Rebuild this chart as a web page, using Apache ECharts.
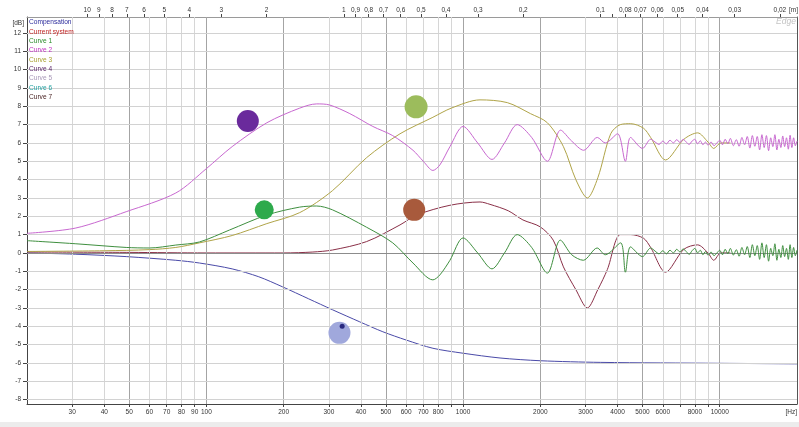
<!DOCTYPE html>
<html><head><meta charset="utf-8">
<script src="https://cdn.jsdelivr.net/npm/echarts@6/dist/echarts.min.js"></script>
<style>html,body{margin:0;padding:0;background:#fff}#c{width:799px;height:427px}</style>
</head><body><div id="c"></div>
<script>
// ---------- data ----------
const legendNames = ['Compensation','Current system','Curve 1','Curve 2','Curve 3','Curve 4','Curve 5','Curve 6','Curve 7'];

const compFreq = [20, 31, 48.7, 76, 94, 126, 160, 198, 250, 310, 396, 487, 600, 763, 1000, 1393, 2000, 3440, 10000, 20000];
const compDb   = [0.0, -0.07, -0.2, -0.4, -0.55, -0.87, -1.3, -1.85, -2.5, -3.1, -3.76, -4.3, -4.75, -5.2, -5.47, -5.73, -5.88, -5.97, -6.02, -6.05];

const currentFreq = [20, 50, 100, 200, 260, 310, 421, 568, 660, 889, 1164, 1273, 1500, 1711, 1994, 2245, 2460, 2750, 3050, 3350, 3650, 4100, 4500, 5050, 5380, 6150, 7250, 8200, 9000, 9480, 10100, 11000];
const currentDb   = [0.05, 0.03, 0.0, 0.0, 0.05, 0.16, 0.62, 1.53, 2.07, 2.6, 2.78, 2.65, 2.3, 1.8, 1.43, 0.7, -0.76, -2.0, -3.0, -2.0, -0.9, 1.0, 1.0, 0.8, 0.3, -1.05, 0.2, 0.44, 0.0, -0.4, 0.0, 0.0];

const curve1Freq = [20, 31, 48.7, 60, 76, 94, 123, 172, 231, 269, 310, 421, 532, 638, 763, 812, 889, 1000, 1140, 1296, 1450, 1625, 1850, 2131, 2393, 2650, 2940, 3330, 3580, 4110, 4290, 4490, 5000, 5380];
const curve1Db   = [0.67, 0.5, 0.3, 0.27, 0.43, 0.6, 1.25, 2.07, 2.5, 2.56, 2.35, 1.4, 0.55, -0.55, -1.47, -1.2, -0.4, 0.82, 0.0, -0.87, 0.0, 1.0, 0.3, -1.1, 0.7, -0.1, -0.4, 0.27, -0.1, 0.55, -1.05, 0.33, -0.2, 0.27];

const curve2Freq = [20, 31, 48.7, 76, 100, 126, 172, 231, 269, 302, 362, 445, 532, 638, 700, 763, 812, 889, 1000, 1140, 1296, 1450, 1625, 1850, 2131, 2398, 2650, 2950, 3335, 3580, 4000, 4290, 4490, 5000, 5380];
const curve2Db   = [1.07, 1.36, 2.25, 3.27, 4.6, 5.8, 7.1, 7.9, 8.13, 8.07, 7.6, 6.9, 6.4, 5.6, 5.0, 4.5, 4.8, 5.8, 6.9, 6.0, 5.1, 6.0, 7.0, 6.3, 5.0, 6.7, 6.1, 5.6, 6.3, 6.0, 6.5, 5.0, 6.3, 5.7, 6.2];

const curve3Freq = [20, 40, 60, 76, 94, 126, 172, 231, 310, 421, 568, 763, 900, 1164, 1487, 1830, 2131, 2460, 2750, 3050, 3350, 3760, 4100, 4500, 5050, 5380, 6150, 7250, 8200, 9000, 9480, 10100, 11000];
const curve3Db   = [0.08, 0.12, 0.18, 0.3, 0.55, 0.95, 1.6, 2.2, 3.4, 5.2, 6.5, 7.4, 7.9, 8.35, 8.2, 7.6, 7.1, 5.8, 4.0, 3.0, 4.1, 6.5, 7.0, 7.05, 6.8, 6.3, 5.07, 6.2, 6.55, 6.05, 5.7, 6.0, 6.0];

// noisy high-frequency tails (read by eye)
const tailFreq = [5600, 5800, 6000, 6200, 6400, 6600, 6800, 7000, 7200, 7400, 7600, 7800, 8000, 8200, 8400, 8600, 8800, 9000, 9250, 9500, 9750, 10000, 10250, 10500, 10750, 11000, 11300, 11600, 11900, 12200, 12500, 12800, 13100, 13400, 13700, 14000, 14300, 14600, 14900, 15200, 15500, 15800, 16100, 16400, 16700, 17000, 17300, 17600, 17900, 18200, 18500, 18800, 19100, 19400, 19700, 20000];
const curve1TailDb = [0.1, -0.05, 0.12, -0.05, 0.15, 0.0, 0.2, 0.05, 0.22, 0.08, -0.08, 0.12, 0.25, 0.0, 0.15, -0.1, 0.08, -0.12, 0.05, -0.15, 0.0, 0.15, -0.1, 0.2, -0.05, 0.25, -0.12, 0.18, -0.18, 0.3, -0.1, 0.35, -0.25, 0.45, -0.15, 0.4, -0.35, 0.55, -0.25, 0.45, -0.45, 0.25, -0.15, 0.5, -0.4, 0.2, -0.25, 0.4, -0.2, 0.25, -0.35, 0.45, -0.25, 0.3, -0.15, 0.15];
const curve2TailDb = [6.05, 5.92, 6.1, 5.95, 6.15, 6.0, 6.18, 6.02, 6.2, 6.05, 5.92, 6.1, 6.2, 5.95, 6.12, 5.9, 6.05, 5.88, 6.05, 5.85, 6.0, 6.15, 5.9, 6.2, 5.95, 6.25, 5.85, 6.18, 5.82, 6.3, 5.9, 6.35, 5.72, 6.4, 5.82, 6.35, 5.62, 6.45, 5.75, 6.4, 5.58, 6.28, 5.8, 6.45, 5.62, 6.2, 5.75, 6.38, 5.8, 6.28, 5.66, 6.42, 5.75, 6.28, 5.85, 6.1];

// decorative dots
const dotFreq = [145, 656, 168, 645, 330, 338];
const dotDb   = [7.2, 7.97, 2.35, 2.35, -4.36, -4.0];

// axis ticks
const bottomTickFreqs  = [30,40,50,60,70,80,90,100,200,300,400,500,600,700,800,900,1000,2000,3000,4000,5000,6000,7000,8000,9000,10000];
const bottomLabelFreqs = [30,40,50,60,70,80,90,100,200,300,400,500,600,700,800,1000,2000,3000,4000,5000,6000,8000,10000];
const majorGridFreqs = [50,100,200,500,1000,2000,5000,10000];
const minorGridFreqs = [30,40,60,70,80,90,300,400,600,700,800,900,3000,4000,6000,7000,8000,9000];
const topTickWavelengths  = [10,9,8,7,6,5,4,3,2,1,0.9,0.8,0.7,0.6,0.5,0.4,0.3,0.2,0.1,0.09,0.08,0.07,0.06,0.05,0.04,0.03,0.02];
const topLabelWavelengths = [10,9,8,7,6,5,4,3,2,1,0.9,0.8,0.7,0.6,0.5,0.4,0.3,0.2,0.1,0.08,0.07,0.06,0.05,0.04,0.03,0.02];
const yTicks = [-8,-7,-6,-5,-4,-3,-2,-1,0,1,2,3,4,5,6,7,8,9,10,11,12];

// ---------- styles ----------
const SOUND = 343;
const FONT = "'Liberation Sans','Arial',sans-serif";
const legendColors = ['#2c2c9c','#c02424','#2a8a2a','#c030c0','#a8a030','#5a2468','#a898b8','#22a0a0','#4a2424'];
const lineColors = {'Compensation':'#4a4aa8','Current system':'#8a3048','Curve 1':'#3f8f3f','Curve 2':'#c868d0','Curve 3':'#b0a448'};
const dotColors = ['#6a2a9c','#9cbc5c','#2eaa4c','#a85a3c','#a0a8dc','#2a2a80'];
const dotSizes = [22, 23, 19, 22, 22, 5];

const pts = (f, d) => f.map((x, i) => [x, d[i]]);
const fmtM = v => String(Math.round(SOUND / v * 100) / 100).replace('.', ',');

function lineSeries(name, data, z) {
  return { name, type: 'line', data, showSymbol: false, smooth: 0.3, z, silent: true,
    lineStyle: { width: 1, color: lineColors[name] }, itemStyle: { color: lineColors[name] } };
}

const series = [
  { name: 'grid', type: 'line', data: [], silent: true, z: 1,
    markLine: { symbol: ['none','none'], silent: true, animation: false, label: { show: false },
      data: [].concat(
        minorGridFreqs.map(v => ({ xAxis: v, lineStyle: { color: '#d6d6d6', width: 1, type: 'solid' } })),
        majorGridFreqs.map(v => ({ xAxis: v, lineStyle: { color: '#a4a4a4', width: 1, type: 'solid' } })),
        yTicks.map(v => ({ yAxis: v, lineStyle: { color: v === 0 ? '#8c8c8c' : '#d2d2d2', width: 1, type: 'solid' } }))
      ) } },
  lineSeries('Compensation', pts(compFreq, compDb), 3),
  lineSeries('Current system', pts(currentFreq, currentDb), 4),
  lineSeries('Curve 3', pts(curve3Freq, curve3Db), 5),
  lineSeries('Curve 1', pts(curve1Freq.concat(tailFreq), curve1Db.concat(curve1TailDb)), 6),
  lineSeries('Curve 2', pts(curve2Freq.concat(tailFreq), curve2Db.concat(curve2TailDb)), 7),
  { name: 'Curve 4', type: 'line', data: [] },
  { name: 'Curve 5', type: 'line', data: [] },
  { name: 'Curve 6', type: 'line', data: [] },
  { name: 'Curve 7', type: 'line', data: [] },
  { name: 'dots', type: 'scatter', data: pts(dotFreq, dotDb), z: 8, silent: true, symbol: 'circle',
    symbolSize: (v, p) => dotSizes[p.dataIndex],
    itemStyle: { color: p => dotColors[p.dataIndex], opacity: 1 } }
];

const chart = echarts.init(document.getElementById('c'), null, { renderer: 'canvas' });
chart.setOption({
  animation: false,
  backgroundColor: '#ffffff',
  grid: { left: 27, right: 2, top: 17, bottom: 23, containLabel: false },
  legend: {
    orient: 'vertical', left: 24, top: 18, padding: 0, itemGap: 0,
    itemWidth: 0, itemHeight: 9.3, icon: 'rect', selectedMode: false, z: 10,
    itemStyle: { opacity: 0 }, lineStyle: { opacity: 0 },
    textStyle: { fontSize: 6.6, fontFamily: FONT, lineHeight: 9.3 },
    data: legendNames.map((n, i) => ({ name: n, textStyle: { color: legendColors[i] } }))
  },
  xAxis: [
    { type: 'log', logBase: 10, min: 20, max: 20000, position: 'bottom',
      axisLine: { show: true, onZero: false, lineStyle: { color: '#444' } },
      axisTick: { show: true, customValues: bottomTickFreqs, length: 3, lineStyle: { color: '#444' } },
      axisLabel: { customValues: bottomLabelFreqs, formatter: v => String(Math.round(v)), fontSize: 6.5, fontFamily: FONT, color: '#333', margin: 5 },
      splitLine: { show: false }, minorTick: { show: false }, minorSplitLine: { show: false } },
    { type: 'log', logBase: 10, min: 20, max: 20000, position: 'top',
      axisLine: { show: true, onZero: false, lineStyle: { color: '#9a9a9a' } },
      axisTick: { show: true, customValues: topTickWavelengths.map(l => SOUND / l), length: 3, lineStyle: { color: '#444' } },
      axisLabel: { customValues: topLabelWavelengths.map(l => SOUND / l), formatter: fmtM, fontSize: 6.5, fontFamily: FONT, color: '#333', margin: 3 },
      splitLine: { show: false } }
  ],
  yAxis: [
    { type: 'value', min: -8.24, max: 12.87, position: 'left',
      axisLine: { show: true, onZero: false, lineStyle: { color: '#444' } },
      axisTick: { show: true, customValues: yTicks, length: 4, lineStyle: { color: '#444' } },
      axisLabel: { customValues: yTicks, fontSize: 6.5, fontFamily: FONT, color: '#333', margin: 6 },
      splitLine: { show: false } },
    { type: 'value', min: -8.24, max: 12.87, position: 'right',
      axisLine: { show: true, onZero: false, lineStyle: { color: '#555' } },
      axisTick: { show: false }, axisLabel: { show: false }, splitLine: { show: false } }
  ],
  graphic: [
    { type: 'rect', z: 3, silent: true, shape: { x: 28, y: 18, width: 45, height: 86 }, style: { fill: '#ffffff' } },
    { type: 'text', silent: true, style: { x: 24, y: 23, text: '[dB]', align: 'right', verticalAlign: 'middle', fontSize: 6.5, fontFamily: FONT, fill: '#333' } },
    { type: 'text', silent: true, style: { x: 797, y: 412, text: '[Hz]', align: 'right', verticalAlign: 'middle', fontSize: 6.5, fontFamily: FONT, fill: '#333' } },
    { type: 'text', silent: true, style: { x: 798, y: 10, text: '[m]', align: 'right', verticalAlign: 'middle', fontSize: 6.5, fontFamily: FONT, fill: '#333' } },
    { type: 'text', silent: true, style: { x: 786, y: 22, text: 'Edge', align: 'center', verticalAlign: 'middle', fontSize: 8.5, fontStyle: 'italic', fontFamily: FONT, fill: '#c4c4c4' } },
    { type: 'rect', silent: true, shape: { x: 0, y: 422, width: 799, height: 5 }, style: { fill: '#ececec' } }
  ],
  series
});
</script></body></html>
